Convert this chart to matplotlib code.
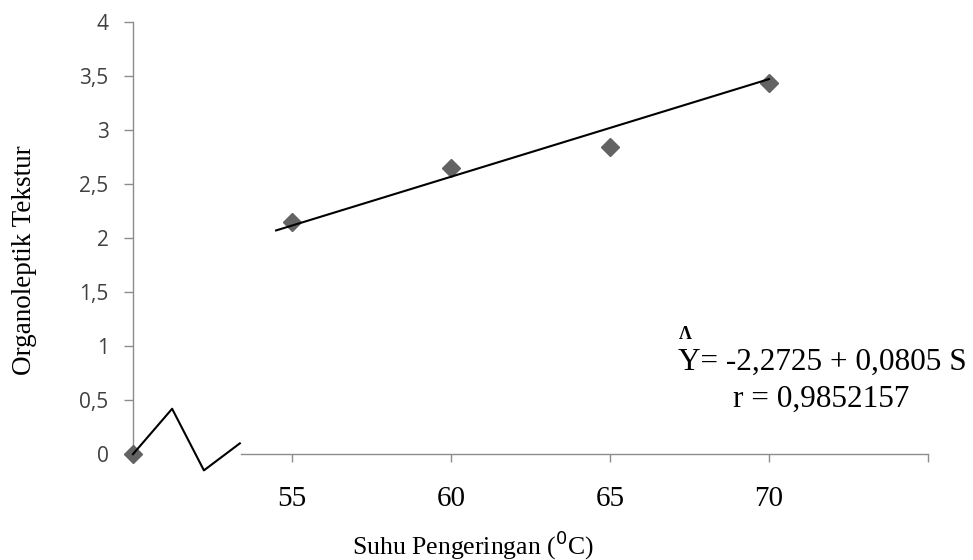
import matplotlib.pyplot as plt

# data
suhu = [55, 60, 65, 70]
tekstur = [2.15, 2.65, 2.84, 3.43]
origin_x, origin_y = 50, 0  # the "0" point, drawn at the axis break
trend_x = [54.5, 70]
trend_y = [2.07, 3.47]
yticks = [0, 0.5, 1, 1.5, 2, 2.5, 3, 3.5, 4]
ytick_labels = ["0", "0,5", "1", "1,5", "2", "2,5", "3", "3,5", "4"]
xticks = [55, 60, 65, 70, 75]
xtick_labels = ["55", "60", "65", "70", ""]
# zigzag break symbol on the x axis
break_x = [50, 51.23, 52.23, 53.36]
break_y = [0, 0.42, -0.15, 0.10]

fig = plt.figure(figsize=(9.73, 5.6), dpi=100)
ax = fig.add_axes([0.1367, 0.189, 0.817, 0.772])

ax.plot([origin_x] + suhu, [origin_y] + tekstur, linestyle="none", marker="D",
        markersize=9, color="#636363", clip_on=False, zorder=3)
ax.plot(trend_x, trend_y, color="black", linewidth=1.5, zorder=4)
ax.plot(break_x, break_y, color="black", linewidth=1.5, clip_on=False, zorder=4)

ax.set_xlim(50, 75)
ax.set_ylim(0, 4)

for s in ["top", "right"]:
    ax.spines[s].set_visible(False)
for s in ["left", "bottom"]:
    ax.spines[s].set_color("#8c8c8c")
    ax.spines[s].set_linewidth(1)
ax.spines["bottom"].set_bounds(53.4, 75)

ax.set_yticks(yticks)
ax.set_yticklabels(ytick_labels, family="Open Sans", fontsize=15, color="#404040")
ax.set_xticks(xticks)
ax.set_xticklabels(xtick_labels, family="Liberation Serif", fontsize=21, color="black")
ax.tick_params(axis="y", length=6.5, width=1, color="#8c8c8c", pad=11)
ax.tick_params(axis="x", length=6, width=1, color="#8c8c8c", pad=17)

ax.set_xlabel("Suhu Pengeringan ($^{0}$C)", family="Liberation Serif", fontsize=18.5)
ax.xaxis.set_label_coords(0.428, -0.172)
ax.set_ylabel("Organoleptik Tekstur", family="Liberation Serif", fontsize=19.5)
ax.yaxis.set_label_coords(-0.121, 0.449)

ax.text(685 / 973, 1 - 339 / 560, "\u039b", transform=fig.transFigure, family="Liberation Serif",
        fontsize=13, fontweight="bold", ha="center", va="baseline")
ax.text(678 / 973, 1 - 370 / 560, "Y= -2,2725 + 0,0805 S", transform=fig.transFigure,
        family="Liberation Serif", fontsize=22.5, ha="left", va="baseline")
ax.text(821 / 973, 1 - 407 / 560, "r = 0,9852157", transform=fig.transFigure,
        family="Liberation Serif", fontsize=22.5, ha="center", va="baseline")

fig.savefig("out.png", dpi=100)
